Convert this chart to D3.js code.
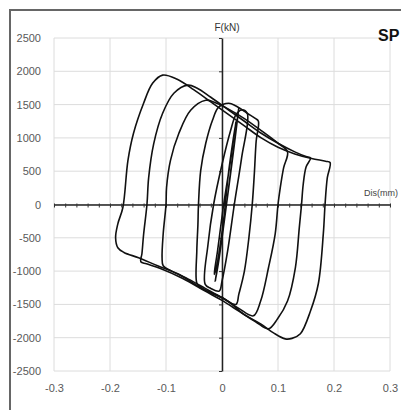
<!DOCTYPE html>
<html>
<head>
<meta charset="utf-8">
<script src="https://cdn.jsdelivr.net/npm/d3@7"></script>
<style>
  body { margin: 0; background: #fff; }
  svg { display: block; }
  .lbl text { font-family: "Liberation Sans Narrow", "Liberation Sans", Arial, sans-serif; font-size: 11px; fill: #595959; }
</style>
</head>
<body>
<svg id="chart"></svg>
<script>
// tick labels
const xTicks = [-0.3, -0.2, -0.1, 0, 0.1, 0.2, 0.3];
const yTicks = [-2500, -2000, -1500, -1000, -500, 0, 500, 1000, 1500, 2000, 2500];

// loops, [displacement, force]
const loopA = [[-0.106,1943],[-0.08,1880],[-0.05,1720],[-0.02,1540],[0.01,1360],[0.04,1180],[0.07,1000],[0.10,860],[0.13,760],[0.16,690],[0.185,650],[0.193,630],
  [0.188,400],[0.184,0],[0.181,-430],[0.172,-1190],[0.158,-1600],[0.14,-1940],[0.125,-2010],[0.113,-2018],
  [0.092,-1928],[0.069,-1792],[0.038,-1642],[0.010,-1446],[-0.015,-1340],[-0.038,-1250],[-0.079,-1040],[-0.115,-920],[-0.149,-800],[-0.175,-720],[-0.186,-650],
  [-0.190,-500],[-0.186,-290],[-0.177,-45],[-0.168,660],[-0.158,1070],[-0.140,1520],[-0.124,1820]];
const loopB = [[-0.061,1792],[-0.045,1750],[-0.02,1610],[0.01,1430],[0.04,1250],[0.07,1070],[0.10,920],[0.13,790],[0.15,720],[0.158,700],
  [0.150,560],[0.145,300],[0.142,0],[0.138,-350],[0.131,-950],[0.117,-1450],[0.099,-1720],[0.083,-1867],
  [0.06,-1760],[0.03,-1600],[0.0,-1440],[-0.03,-1300],[-0.07,-1110],[-0.11,-960],[-0.135,-890],[-0.145,-860],
  [-0.143,-740],[-0.140,-450],[-0.134,0],[-0.131,400],[-0.122,910],[-0.106,1370],[-0.086,1670]];
const loopC = [[-0.029,1566],[-0.015,1540],[0.01,1440],[0.04,1290],[0.07,1110],[0.10,920],[0.117,790],
  [0.110,550],[0.104,250],[0.10,0],[0.095,-440],[0.083,-950],[0.069,-1450],[0.056,-1672],
  [0.03,-1560],[0.0,-1400],[-0.03,-1260],[-0.06,-1120],[-0.09,-1000],[-0.105,-920],
  [-0.107,-800],[-0.105,-440],[-0.10,0],[-0.099,256],[-0.092,663],[-0.077,1069],[-0.056,1416]];
const loopD = [[0.012,1521],[0.025,1480],[0.045,1370],[0.06,1290],[0.065,1250],
  [0.061,950],[0.058,500],[0.054,0],[0.048,-500],[0.04,-1000],[0.03,-1350],[0.025,-1500],
  [0.0,-1400],[-0.025,-1310],[-0.04,-1230],[-0.045,-1180],
  [-0.045,-700],[-0.043,-300],[-0.042,0],[-0.038,512],[-0.029,919],[-0.017,1265],[-0.006,1461]];
const loopE = [[0.035,1420],[0.045,1370],[0.035,700],[0.022,0],[0.01,-700],[0.0,-1150],[-0.005,-1300],
  [-0.02,-1260],[-0.03,-1200],[-0.025,-600],[-0.015,0],[0.0,600],[0.015,1100],[0.025,1350]];
const loopS1 = [[0.025,1250],[0.012,500],[0.002,-300],[-0.01,-950],[-0.014,-1050],[-0.008,-700],[0.003,0],[0.016,700]];
const loopS2 = [[0.03,1450],[0.02,800],[0.008,0],[-0.005,-800],[-0.012,-1150],[-0.004,-700],[0.008,0],[0.022,900]];
const loops = [loopA, loopB, loopC, loopD, loopE, loopS1, loopS2];

const width = 401, height = 410;
const svg = d3.select("#chart").attr("width", width).attr("height", height);

const x = d3.scaleLinear().domain([-0.3, 0.3]).range([54, 390]);
const y = d3.scaleLinear().domain([-2500, 2500]).range([371, 38]);

// plain hyphen for negatives, like the original
const fmt = d => String(+(+d).toFixed(1));

// frame
svg.append("rect")
  .attr("x", 10).attr("y", 10).attr("width", 430).attr("height", 430)
  .attr("fill", "none").attr("stroke", "#666").attr("stroke-width", 2);

// grid
svg.append("g").selectAll("line").data(xTicks).enter().append("line")
  .attr("x1", d => x(d)).attr("x2", d => x(d))
  .attr("y1", y(2500)).attr("y2", y(-2500))
  .attr("stroke", "#dcdcdc").attr("stroke-width", 1);
svg.append("g").selectAll("line").data(yTicks).enter().append("line")
  .attr("x1", x(-0.3)).attr("x2", x(0.3))
  .attr("y1", d => y(d)).attr("y2", d => y(d))
  .attr("stroke", "#dcdcdc").attr("stroke-width", 1);

// tick labels
svg.append("g").attr("class", "lbl")
  .attr("transform", `translate(${x(-0.3) - 10},0)`)
  .call(d3.axisLeft(y).tickValues(yTicks).tickSize(0).tickFormat(fmt))
  .call(g => g.select(".domain").remove());
svg.append("g").attr("class", "lbl")
  .attr("transform", `translate(0,${y(-2500) + 10})`)
  .call(d3.axisBottom(x).tickValues(xTicks).tickSize(0).tickFormat(fmt))
  .call(g => g.select(".domain").remove());
svg.selectAll(".lbl text").attr("fill", "#595959");

// axes through origin
const minor = d3.range(-15, 16).map(i => i * 0.02);
svg.append("g")
  .attr("transform", `translate(0,${y(0)})`)
  .call(d3.axisBottom(x).tickValues(minor).tickSize(3).tickSizeOuter(0).tickFormat(""))
  .call(g => g.selectAll("line").attr("stroke", "#333").attr("y1", -1))
  .call(g => g.select(".domain").attr("stroke", "#222").attr("stroke-width", 1.5));
svg.append("g")
  .attr("transform", `translate(${x(0)},0)`)
  .call(d3.axisLeft(y).tickValues(yTicks).tickSize(3).tickSizeOuter(0).tickFormat(""))
  .call(g => g.selectAll("line").attr("stroke", "#333"))
  .call(g => g.select(".domain").attr("stroke", "#222").attr("stroke-width", 1.5));

// loops
const line = d3.line()
  .x(d => x(d[0])).y(d => y(d[1]))
  .curve(d3.curveCatmullRomClosed.alpha(0.5));
svg.append("g").selectAll("path").data(loops).enter().append("path")
  .attr("d", line)
  .attr("fill", "none").attr("stroke", "#111").attr("stroke-width", 1.6);

// titles
svg.append("text").attr("x", x(0) + 5).attr("y", 31)
  .attr("text-anchor", "middle")
  .style("font", "10px 'Liberation Sans Narrow', Arial, sans-serif").attr("fill", "#333")
  .text("F(kN)");
svg.append("text").attr("x", 364).attr("y", 196)
  .style("font", "9px 'Liberation Sans Narrow', Arial, sans-serif").attr("fill", "#444")
  .text("Dis(mm)");
svg.append("text").attr("x", 378).attr("y", 41)
  .style("font", "bold 16px 'Liberation Sans', Arial, sans-serif").attr("fill", "#111")
  .text("SP");
</script>
</body>
</html>
